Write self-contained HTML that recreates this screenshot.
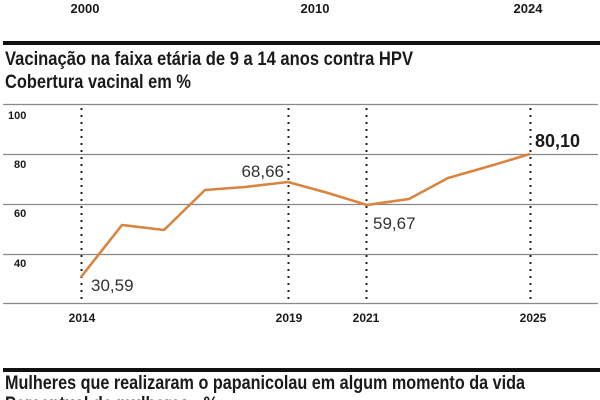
<!DOCTYPE html>
<html><head><meta charset="utf-8"><style>
html,body{margin:0;padding:0;background:#fff;width:600px;height:400px;overflow:hidden}
svg{display:block}
.b{font-family:"Liberation Sans Narrow","Liberation Sans",sans-serif;font-weight:bold;fill:#1a1a1a}
.l{font-family:"Liberation Sans Narrow","Liberation Sans",sans-serif;fill:#333}
</style></head><body>
<svg width="600" height="400" viewBox="0 0 600 400">
<text class="b" x="85" y="13" font-size="13" text-anchor="middle">2000</text>
<text class="b" x="315" y="13" font-size="13" text-anchor="middle">2010</text>
<text class="b" x="528" y="13" font-size="13" text-anchor="middle">2024</text>
<rect x="3" y="41" width="597" height="4" fill="#111"/>
<text class="b" x="5" y="65" font-size="19" textLength="408" lengthAdjust="spacingAndGlyphs">Vacinação na faixa etária de 9 a 14 anos contra HPV</text>
<text class="b" x="5" y="88" font-size="19" textLength="186" lengthAdjust="spacingAndGlyphs">Cobertura vacinal em %</text>
<g stroke="#888" stroke-width="1.3">
<line x1="3" y1="104.5" x2="598" y2="104.5"/>
<line x1="3" y1="154.5" x2="598" y2="154.5"/>
<line x1="3" y1="204.5" x2="598" y2="204.5"/>
<line x1="3" y1="254.5" x2="598" y2="254.5"/>
<line x1="3" y1="303.5" x2="598" y2="303.5"/>
</g>
<g stroke="#222" stroke-width="2" stroke-dasharray="2,5">
<line x1="81.5" y1="108" x2="81.5" y2="303"/>
<line x1="288.5" y1="108" x2="288.5" y2="303"/>
<line x1="366.5" y1="108" x2="366.5" y2="303"/>
<line x1="530.5" y1="108" x2="530.5" y2="303"/>
</g>
<g class="b" font-size="11">
<text x="8" y="119">100</text>
<text x="14" y="168">80</text>
<text x="14" y="217">60</text>
<text x="14" y="267">40</text>
</g>
<polyline fill="none" stroke="#d9843f" stroke-width="2.6" stroke-linejoin="round" points="81,277 122,225 164,230 205,190 245,187 288,182 328,193 367,205 409,199 448,178 490,166 530,154"/>
<text class="l" x="91" y="291" font-size="17">30,59</text>
<text class="l" x="284" y="177" font-size="17" text-anchor="end">68,66</text>
<text class="l" x="373" y="229" font-size="17">59,67</text>
<text class="b" x="535" y="147" font-size="18">80,10</text>
<g class="b" font-size="12" text-anchor="middle">
<text x="82" y="322">2014</text>
<text x="289" y="322">2019</text>
<text x="366" y="322">2021</text>
<text x="533" y="322">2025</text>
</g>
<rect x="3" y="368" width="597" height="4" fill="#111"/>
<text class="b" x="5" y="389" font-size="19" textLength="520" lengthAdjust="spacingAndGlyphs">Mulheres que realizaram o papanicolau em algum momento da vida</text>
<text class="b" x="5" y="410" font-size="19" textLength="213" lengthAdjust="spacingAndGlyphs">Percentual de mulheres - %</text>
</svg>
</body></html>
